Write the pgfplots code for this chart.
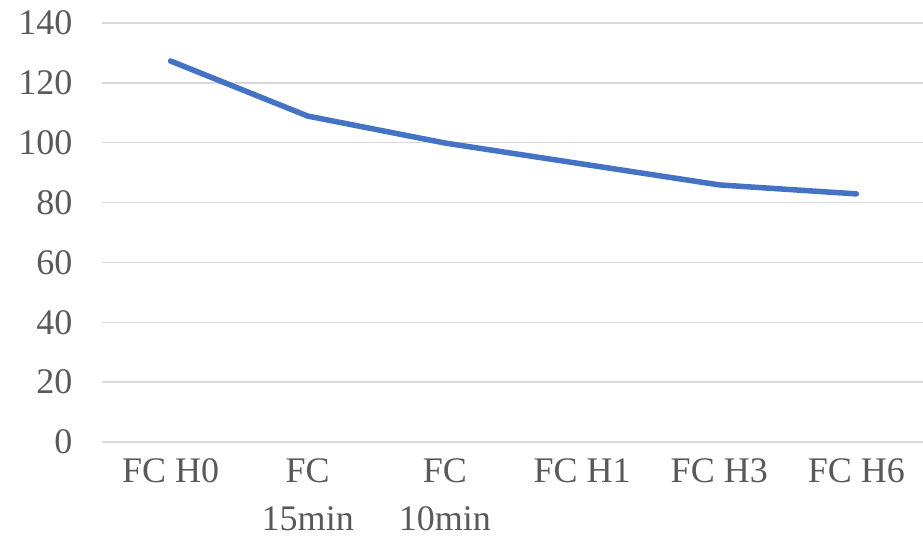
\documentclass[border=0pt]{standalone}
\usepackage{pgfplots}
\pgfplotsset{compat=1.18}
\usepackage{fontspec}
\setmainfont{Liberation Serif}
\definecolor{lineblue}{HTML}{4472C4}
\definecolor{gridgray}{HTML}{D9D9D9}
\definecolor{txtgray}{HTML}{595959}
\begin{document}
\begin{tikzpicture}
\useasboundingbox (-102pt,-103pt) rectangle (821pt,442pt);
\begin{axis}[
  at={(0,0)}, anchor=south west,
  scale only axis,
  width=823pt, height=419pt,
  xmin=-0.5, xmax=5.5,
  ymin=0, ymax=140,
  ytick={0,20,...,140},
  xtick={0,1,2,3,4,5},
  xticklabels={FC H0,{FC\\15min},{FC\\10min},FC H1,FC H3,FC H6},
  axis line style={draw=none},
  ymajorgrids,
  grid style={gridgray, line width=1.5pt},
  major tick length=0pt,
  tick label style={font=\fontsize{36}{48}\selectfont, text=txtgray},
  x tick label style={align=center, yshift=-13pt},
  y tick label style={xshift=-26pt},
  /pgf/number format/assume math mode=true,
  clip=false,
]
\addplot[lineblue, line width=5.5pt, line cap=round, line join=round] coordinates {
  (0,127.3) (1,108.9) (2,99.9) (3,92.9) (4,85.9) (5,82.9)
};
\end{axis}
\end{tikzpicture}
\end{document}
